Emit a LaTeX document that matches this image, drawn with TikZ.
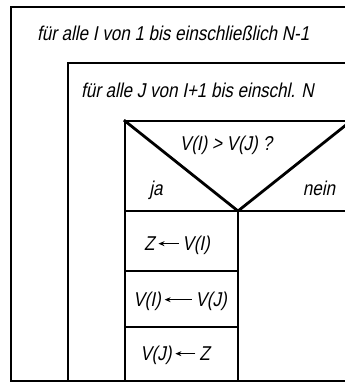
\documentclass[tikz,border=0pt]{standalone}
\usepackage{fontspec}
\newfontfamily\din{Liberation Sans}[FakeStretch=0.85,FakeSlant=0.2]
\usetikzlibrary{arrows.meta}
\newcommand\larr[1]{\tikz[baseline=-0.6ex]\draw[line width=1.2pt,-{Stealth[length=6pt,width=5pt]}](#1pt,0pt)--(0pt,0pt);}
\tikzset{
  frame/.style={line width=2.8pt,line cap=rect},
  thin frame/.style={line width=1.8pt},
  lbl/.style={inner sep=0pt,font=\din\fontsize{20}{22}\selectfont},
}
\begin{document}
\begin{tikzpicture}[x=1pt,y=-1pt]
\useasboundingbox (0,0) rectangle (345,383);
\clip (0,0) rectangle (345,383);
\fill[white] (0,0) rectangle (345,383);
% corner coordinates
\coordinate (o) at (11,7);
\coordinate (i) at (68,63);
\coordinate (d) at (125,121);
\coordinate (apex) at (238,211);
\coordinate (dr) at (351,121);
% outer loop
\draw[frame] (345,7) -- (o) -- (11,381) -- (345,381);
% inner loop
\draw[frame] (345,63) -- (i) -- (68,381);
% decision
\draw[frame] (345,121) -- (d) -- (125,381);
\draw[frame] (d) -- (apex) -- (dr);
\draw[frame] (125,211) -- (345,211);
\draw[frame] (apex) -- (238,381);
\draw[thin frame] (125,271) -- (238,271);
\draw[thin frame] (125,327) -- (238,327);
% texts
\node[lbl,anchor=base west] (t1) at (37,40) {für alle I von 1 bis einschließlich N-1};
\node[lbl,anchor=base west] (t2) at (81,97) {für alle J von I+1 bis einschl. N};
\node[lbl,anchor=base] (q) at (226,150) {V(I) > V(J) ?};
\node[lbl,anchor=base] (ja) at (156,195) {ja};
\node[lbl,anchor=base] (nein) at (319,195) {nein};
\node[lbl,anchor=base] (r1) at (177,250) {Z\,\larr{20}\,V(I)};
\node[lbl,anchor=base] (r2) at (180,306) {V(I)\,\larr{27}\,V(J)};
\node[lbl,anchor=base] (r3) at (175,360) {V(J)\,\larr{20}\,Z};
\end{tikzpicture}
\end{document}
